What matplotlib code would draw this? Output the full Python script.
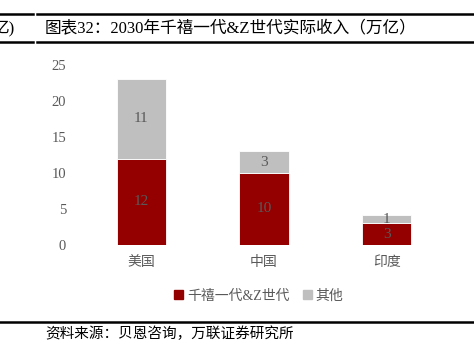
import numpy as np
import matplotlib
matplotlib.use('Agg')
from matplotlib import pyplot as plt
from matplotlib.patches import Patch
from matplotlib.lines import Line2D

plt.rcParams['font.family'] = ['Liberation Serif', 'Noto Sans CJK SC', 'DejaVu Sans']

categories = ['美国', '中国', '印度']
gen_mz = [12, 10, 3]
others = [11, 3, 1.1]
labels_mz = ['12', '10', '3']
labels_other = ['11', '3', '1']
yticks = [0, 5, 10, 15, 20, 25]

red = '#940000'
grey = '#bfbfbf'
txt = '#595959'

W, H = 474, 351
fig = plt.figure(figsize=(W / 100, H / 100), dpi=100)

# plot area in pixels: x 80..448, y 65..245
ax = fig.add_axes([80 / W, 1 - 245 / H, 368 / W, 180 / H])
x = np.arange(len(categories))
b1 = ax.bar(x, gen_mz, width=0.4, color=red, edgecolor='white', linewidth=0.6, label='千禧一代&Z世代')
b2 = ax.bar(x, others, width=0.4, bottom=gen_mz, color=grey, edgecolor='white', linewidth=0.6, label='其他')

for i in range(len(x)):
    ax.text(x[i], gen_mz[i] / 2, labels_mz[i], ha='center', va='center', color=txt, fontsize=11)
    ax.text(x[i], gen_mz[i] + others[i] / 2, labels_other[i], ha='center', va='center', color=txt, fontsize=11)

ax.set_xlim(-0.5, 2.5)
ax.set_ylim(0, 25)
ax.set_yticks(yticks)
ax.set_yticklabels([str(v) for v in yticks])
ax.set_xticks(x)
ax.set_xticklabels(categories, fontweight='light')
ax.tick_params(axis='y', length=0, colors=txt, labelsize=10.5, pad=10)
ax.tick_params(axis='x', length=0, colors=txt, labelsize=10, pad=8)
for s in ax.spines.values():
    s.set_visible(False)

handles = [Patch(color=red), Patch(color=grey)]
leg = fig.legend(handles, ['千禧一代&Z世代', '其他'], loc='center', bbox_to_anchor=(259 / W, 1 - 296 / H),
                 ncol=2, frameon=False, fontsize=10, handlelength=0.6, handleheight=0.6,
                 handletextpad=0.3, columnspacing=1.0)
for t in leg.get_texts():
    t.set_color(txt)
    t.set_fontweight('light')

# title band lines
for yy in (14, 42):
    fig.add_artist(Line2D([0, 33 / W], [1 - yy / H] * 2, color='black', lw=1.8))
    fig.add_artist(Line2D([37 / W, 1], [1 - yy / H] * 2, color='black', lw=1.8))
fig.add_artist(Line2D([0, 1], [1 - 322 / H] * 2, color='black', lw=1.8))

fig.text(-8 / W, 1 - 29 / H, '亿)', fontsize=12, va='center', ha='left', fontweight='light')
fig.text(45 / W, 1 - 29 / H, '图表32：2030年千禧一代&Z世代实际收入（万亿）', fontsize=12, va='center', ha='left', fontweight='light')
fig.text(45 / W, 1 - 334 / H, '资料来源：贝恩咨询，万联证券研究所', fontsize=10.5, va='center', ha='left', style='italic')

fig.savefig('out.png', dpi=100)
